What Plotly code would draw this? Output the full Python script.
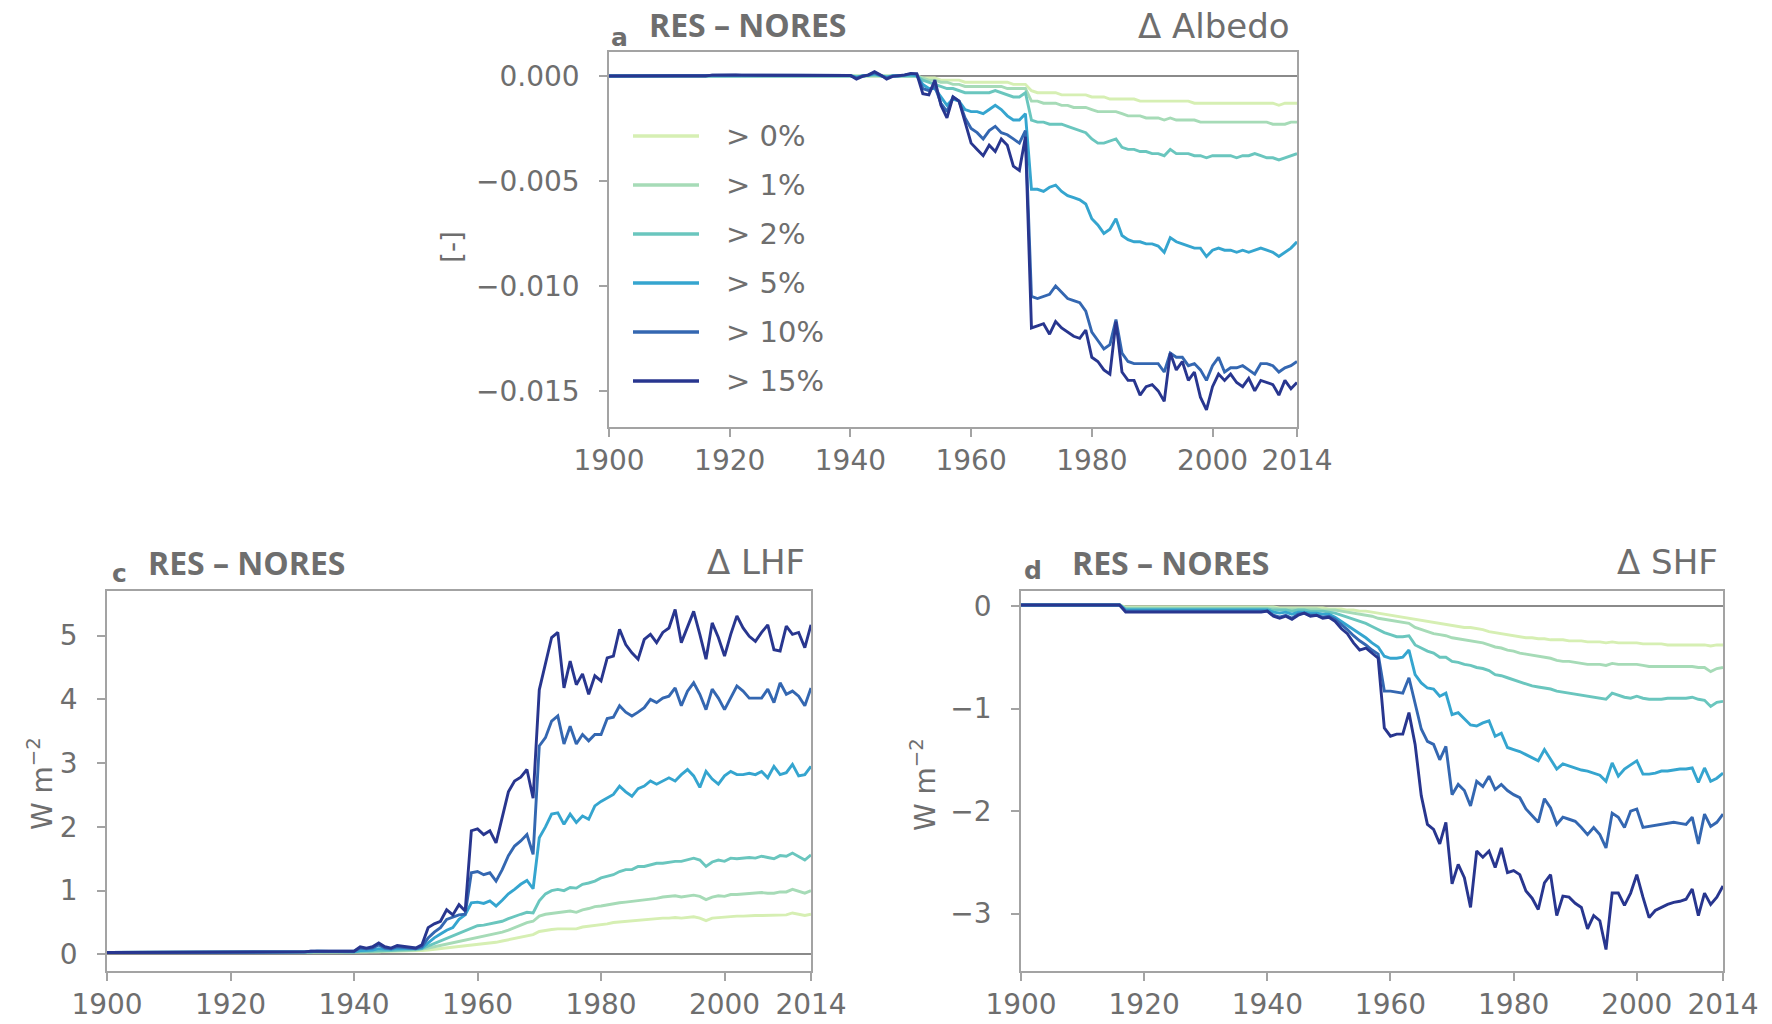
import plotly.graph_objects as go

# ---------------- data ----------------
years = list(range(1900, 2015))
thresholds = ["> 0%", "> 1%", "> 2%", "> 5%", "> 10%", "> 15%"]
colors = ["#d6efb3", "#a6dbb7", "#6ac6be", "#35a5cf", "#3467b1", "#28368f"]

x_tickvals = [1900, 1920, 1940, 1960, 1980, 2000, 2014]
x_ticktext = ["1900", "1920", "1940", "1960", "1980", "2000", "2014"]

alb_tickvals = [0.0, -0.005, -0.010, -0.015]
alb_ticktext = ["0.000", "\u22120.005", "\u22120.010", "\u22120.015"]
lhf_tickvals = [0, 1, 2, 3, 4, 5]
lhf_ticktext = ["0", "1", "2", "3", "4", "5"]
shf_tickvals = [0, -1, -2, -3]
shf_ticktext = ["0", "\u22121", "\u22122", "\u22123"]

# ---- panel a: delta albedo [-] ----
alb_gt0 = [
    0, 0, 0, 0, 0, 0, 0, 0, 0, 0,
    0, 0, 0, 0, 0, 0, 0, 0, 0, 0,
    0, 0, 0, 0, 0, 0, 0, 0, 0, 0,
    0, 0, 0, 0, 0, 0, 0, 0, 0, 0,
    0, 0, 0, 0, 0.00002, 0, 0, 0, 0, 0,
    0, 0, -0.0001, -0.0001, -0.0001, -0.0002, -0.0002, -0.0002, -0.0002, -0.0003,
    -0.0003, -0.0003, -0.0003, -0.0003, -0.0003, -0.0003, -0.0003, -0.0004, -0.0004, -0.0004,
    -0.0007, -0.0008, -0.0008, -0.0008, -0.0008, -0.0009, -0.0009, -0.0009, -0.0009, -0.0009,
    -0.0010, -0.0010, -0.0010, -0.0011, -0.0011, -0.0011, -0.0011, -0.0011, -0.0012, -0.0012,
    -0.0012, -0.0012, -0.0012, -0.0012, -0.0012, -0.0012, -0.0012, -0.0013, -0.0013, -0.0013,
    -0.0013, -0.0013, -0.0013, -0.0013, -0.0013, -0.0013, -0.0013, -0.0013, -0.0013, -0.0013,
    -0.0013, -0.0014, -0.0013, -0.0013, -0.0013,
]
alb_gt1 = [
    0, 0, 0, 0, 0, 0, 0, 0, 0, 0,
    0, 0, 0, 0, 0, 0, 0, 0, 0, 0,
    0, 0, 0, 0, 0, 0, 0, 0, 0, 0,
    0, 0, 0, 0, 0, 0, 0, 0, 0, 0,
    0, 0, 0, 0, 0.00003, 0, 0, 0, 0, 0,
    0.00002, 0, -0.0001, -0.0002, -0.0002, -0.0003, -0.0003, -0.0004, -0.0004, -0.0005,
    -0.0005, -0.0005, -0.0005, -0.0005, -0.0005, -0.0005, -0.0006, -0.0006, -0.0006, -0.0006,
    -0.0012, -0.0012, -0.0013, -0.0013, -0.0013, -0.0014, -0.0014, -0.0015, -0.0015, -0.0015,
    -0.0016, -0.0017, -0.0017, -0.0017, -0.0017, -0.0018, -0.0019, -0.0019, -0.0019, -0.0020,
    -0.0020, -0.0020, -0.0021, -0.0020, -0.0021, -0.0021, -0.0021, -0.0021, -0.0022, -0.0022,
    -0.0022, -0.0022, -0.0022, -0.0022, -0.0022, -0.0022, -0.0022, -0.0022, -0.0022, -0.0022,
    -0.0023, -0.0023, -0.0023, -0.0022, -0.0022,
]
alb_gt2 = [
    0, 0, 0, 0, 0, 0, 0, 0, 0, 0,
    0, 0, 0, 0, 0, 0, 0, 0.00001, 0.00001, 0.00001,
    0.00001, 0.00001, 0.00001, 0.00001, 0.00001, 0.00001, 0.00001, 0.00001, 0.00001, 0.00001,
    0.00001, 0.00001, 0.00001, 0.00001, 0.00001, 0.00001, 0.00001, 0.00001, 0.00001, 0.00001,
    0.00001, -0.00003, 0, 0.00002, 0.00005, 0.00001, -0.00003, 0, 0, 0.00002,
    0.00003, 0, -0.0002, -0.0003, -0.0004, -0.0005, -0.0006, -0.0006, -0.0007, -0.0008,
    -0.0008, -0.0008, -0.0008, -0.0008, -0.0007, -0.0008, -0.0009, -0.0010, -0.0010, -0.0008,
    -0.0021, -0.0022, -0.0022, -0.0023, -0.0023, -0.0023, -0.0024, -0.0025, -0.0026, -0.0027,
    -0.0030, -0.0032, -0.0032, -0.0031, -0.0030, -0.0034, -0.0035, -0.0035, -0.0036, -0.0036,
    -0.0037, -0.0037, -0.0038, -0.0035, -0.0037, -0.0037, -0.0037, -0.0038, -0.0038, -0.0039,
    -0.0038, -0.0038, -0.0038, -0.0038, -0.0039, -0.0038, -0.0038, -0.0037, -0.0038, -0.0039,
    -0.0039, -0.0040, -0.0039, -0.0038, -0.0037,
]
alb_gt5 = [
    0, 0, 0, 0, 0, 0, 0, 0, 0, 0,
    0, 0, 0, 0, 0, 0, 0, 0.00002, 0.00002, 0.00002,
    0.00002, 0.00003, 0.00002, 0.00002, 0.00003, 0.00002, 0.00002, 0.00002, 0.00003, 0.00002,
    0.00002, 0.00002, 0.00002, 0.00002, 0.00002, 0.00002, 0.00002, 0.00002, 0.00002, 0.00002,
    0.00001, -0.00007, 0, 0.00003, 0.0001, 0.00002, -0.00007, 0, 0, 0.00003,
    0.00006, 0, -0.0004, -0.0006, -0.0006, -0.0010, -0.0014, -0.0011, -0.0012, -0.0016,
    -0.0017, -0.0017, -0.0018, -0.0016, -0.0014, -0.0016, -0.0019, -0.0021, -0.0021, -0.0018,
    -0.0054, -0.0054, -0.0055, -0.0053, -0.0052, -0.0055, -0.0057, -0.0058, -0.0059, -0.0061,
    -0.0068, -0.0071, -0.0075, -0.0073, -0.0068, -0.0076, -0.0078, -0.0079, -0.0079, -0.0080,
    -0.0080, -0.0081, -0.0084, -0.0077, -0.0079, -0.0080, -0.0081, -0.0082, -0.0082, -0.0086,
    -0.0083, -0.0082, -0.0083, -0.0083, -0.0084, -0.0083, -0.0084, -0.0083, -0.0082, -0.0083,
    -0.0084, -0.0086, -0.0084, -0.0082, -0.0079,
]
alb_gt10 = [
    0, 0, 0, 0, 0, 0, 0, 0, 0, 0,
    0, 0, 0, 0, 0, 0, 0, 0.00003, 0.00004, 0.00003,
    0.00003, 0.00004, 0.00003, 0.00003, 0.00004, 0.00003, 0.00003, 0.00003, 0.00004, 0.00003,
    0.00003, 0.00003, 0.00003, 0.00003, 0.00003, 0.00003, 0.00003, 0.00003, 0.00003, 0.00003,
    0.00002, -0.0001, 0, 0.00004, 0.00015, 0.00003, -0.0001, 0, 0, 0.00004,
    0.0001, 0.0001, -0.0006, -0.0007, -0.0005, -0.0013, -0.0017, -0.0010, -0.0012, -0.0020,
    -0.0025, -0.0027, -0.0030, -0.0026, -0.0024, -0.0027, -0.0028, -0.0030, -0.0032, -0.0026,
    -0.0105, -0.0106, -0.0105, -0.0104, -0.0100, -0.0103, -0.0106, -0.0107, -0.0108, -0.0112,
    -0.0122, -0.0126, -0.0130, -0.0128, -0.0116, -0.0132, -0.0136, -0.0137, -0.0137, -0.0137,
    -0.0137, -0.0137, -0.0141, -0.0132, -0.0134, -0.0134, -0.0138, -0.0137, -0.0140, -0.0145,
    -0.0138, -0.0134, -0.0141, -0.0139, -0.0139, -0.0138, -0.0140, -0.0142, -0.0137, -0.0137,
    -0.0138, -0.0141, -0.0139, -0.0138, -0.0136,
]
alb_gt15 = [
    0, 0, 0, 0, 0, 0, 0, 0, 0, 0,
    0, 0, 0, 0, 0, 0, 0, 0.00004, 0.00005, 0.00004,
    0.00004, 0.00005, 0.00004, 0.00004, 0.00005, 0.00004, 0.00004, 0.00004, 0.00005, 0.00004,
    0.00004, 0.00004, 0.00004, 0.00004, 0.00004, 0.00004, 0.00004, 0.00004, 0.00004, 0.00004,
    0.00002, -0.00015, -0.00002, 0.00005, 0.0002, 0.00005, -0.00015, -0.00002, 0, 0.00005,
    0.00012, 0.0001, -0.00085, -0.0009, -0.0002, -0.0014, -0.0020, -0.0010, -0.0012, -0.0022,
    -0.0032, -0.0035, -0.0038, -0.0033, -0.0036, -0.0030, -0.0033, -0.0043, -0.0045, -0.0029,
    -0.0120, -0.0119, -0.0118, -0.0123, -0.0117, -0.0120, -0.0122, -0.0124, -0.0125, -0.0121,
    -0.0134, -0.0136, -0.0140, -0.0142, -0.0117, -0.0141, -0.0145, -0.0145, -0.0152, -0.0148,
    -0.0147, -0.0150, -0.0155, -0.0132, -0.0140, -0.0136, -0.0145, -0.0141, -0.0153, -0.0159,
    -0.0148, -0.0142, -0.0145, -0.0142, -0.0146, -0.0148, -0.0144, -0.0150, -0.0145, -0.0146,
    -0.0147, -0.0152, -0.0145, -0.0149, -0.0146,
]

# ---- panel c: delta LHF [W m-2] ----
lhf_gt0 = [
    0.03, 0.03, 0.03, 0.03, 0.03, 0.03, 0.03, 0.03, 0.03, 0.03,
    0.03, 0.03, 0.03, 0.03, 0.03, 0.03, 0.03, 0.03, 0.03, 0.03,
    0.03, 0.03, 0.03, 0.03, 0.03, 0.03, 0.03, 0.03, 0.03, 0.03,
    0.03, 0.03, 0.03, 0.03, 0.04, 0.04, 0.04, 0.04, 0.04, 0.04,
    0.04, 0.04, 0.04, 0.04, 0.04, 0.05, 0.05, 0.05, 0.05, 0.05,
    0.06, 0.06, 0.07, 0.08, 0.09, 0.10, 0.11, 0.12, 0.13, 0.14,
    0.15, 0.16, 0.18, 0.19, 0.21, 0.23, 0.25, 0.27, 0.29, 0.31,
    0.36, 0.38, 0.39, 0.40, 0.40, 0.41, 0.40, 0.43, 0.44, 0.45,
    0.47, 0.48, 0.50, 0.51, 0.52, 0.53, 0.54, 0.55, 0.55, 0.56,
    0.57, 0.57, 0.58, 0.57, 0.58, 0.59, 0.57, 0.53, 0.57, 0.58,
    0.58, 0.60, 0.60, 0.60, 0.61, 0.61, 0.61, 0.61, 0.61, 0.62,
    0.62, 0.65, 0.63, 0.61, 0.63,
]
lhf_gt1 = [
    0.03, 0.03, 0.03, 0.03, 0.03, 0.03, 0.03, 0.03, 0.03, 0.03,
    0.03, 0.03, 0.03, 0.03, 0.03, 0.03, 0.03, 0.03, 0.03, 0.03,
    0.03, 0.03, 0.03, 0.03, 0.03, 0.03, 0.03, 0.03, 0.03, 0.03,
    0.03, 0.03, 0.04, 0.04, 0.04, 0.04, 0.04, 0.04, 0.04, 0.04,
    0.04, 0.04, 0.04, 0.05, 0.05, 0.05, 0.05, 0.06, 0.06, 0.06,
    0.07, 0.08, 0.10, 0.12, 0.14, 0.16, 0.18, 0.20, 0.22, 0.24,
    0.26, 0.28, 0.30, 0.32, 0.35, 0.38, 0.42, 0.46, 0.50, 0.52,
    0.60, 0.63, 0.64, 0.66, 0.66, 0.68, 0.66, 0.70, 0.72, 0.75,
    0.76, 0.78, 0.80, 0.81, 0.82, 0.83, 0.85, 0.86, 0.87, 0.88,
    0.90, 0.91, 0.92, 0.90, 0.92, 0.93, 0.91, 0.86, 0.90, 0.92,
    0.91, 0.94, 0.94, 0.95, 0.96, 0.96, 0.97, 0.96, 0.96, 0.98,
    0.98, 1.02, 0.99, 0.96, 1.00,
]
lhf_gt2 = [
    0.03, 0.03, 0.03, 0.03, 0.03, 0.03, 0.03, 0.03, 0.03, 0.03,
    0.03, 0.03, 0.03, 0.03, 0.03, 0.03, 0.03, 0.03, 0.04, 0.04,
    0.04, 0.04, 0.04, 0.04, 0.04, 0.04, 0.04, 0.04, 0.04, 0.04,
    0.04, 0.04, 0.04, 0.04, 0.04, 0.04, 0.04, 0.04, 0.04, 0.04,
    0.04, 0.05, 0.05, 0.05, 0.06, 0.06, 0.06, 0.07, 0.07, 0.07,
    0.08, 0.09, 0.13, 0.17, 0.21, 0.26, 0.30, 0.34, 0.38, 0.42,
    0.45, 0.46, 0.48, 0.50, 0.52, 0.56, 0.60, 0.63, 0.66, 0.65,
    0.84, 0.95, 1.00, 1.02, 1.00, 1.05, 1.04, 1.10, 1.12, 1.15,
    1.20, 1.22, 1.25, 1.30, 1.33, 1.33, 1.38, 1.38, 1.40, 1.43,
    1.43, 1.45, 1.46, 1.46, 1.48, 1.51, 1.48, 1.38, 1.45, 1.48,
    1.46, 1.51, 1.50, 1.51, 1.52, 1.51, 1.54, 1.52, 1.50, 1.55,
    1.54, 1.59, 1.53, 1.48, 1.56,
]
lhf_gt5 = [
    0.03, 0.03, 0.03, 0.03, 0.03, 0.03, 0.03, 0.03, 0.03, 0.03,
    0.03, 0.03, 0.03, 0.03, 0.03, 0.03, 0.03, 0.03, 0.04, 0.04,
    0.04, 0.04, 0.04, 0.04, 0.04, 0.04, 0.04, 0.04, 0.04, 0.04,
    0.04, 0.04, 0.04, 0.04, 0.05, 0.05, 0.05, 0.05, 0.05, 0.05,
    0.04, 0.06, 0.06, 0.07, 0.09, 0.08, 0.08, 0.09, 0.09, 0.09,
    0.09, 0.10, 0.18, 0.26, 0.32, 0.38, 0.42, 0.55, 0.62, 0.81,
    0.82, 0.80, 0.84, 0.76, 0.85, 0.95, 1.02, 1.10, 1.16, 1.03,
    1.83, 2.00, 2.20, 2.22, 2.04, 2.20, 2.07, 2.17, 2.12, 2.33,
    2.40, 2.46, 2.51, 2.64, 2.55, 2.48, 2.60, 2.64, 2.72, 2.67,
    2.72, 2.77, 2.72, 2.82, 2.90, 2.80, 2.62, 2.87, 2.75, 2.67,
    2.80, 2.87, 2.82, 2.82, 2.84, 2.82, 2.87, 2.77, 2.95, 2.82,
    2.85, 2.98, 2.80, 2.82, 2.95,
]
lhf_gt10 = [
    0.03, 0.03, 0.03, 0.03, 0.03, 0.03, 0.03, 0.03, 0.03, 0.03,
    0.03, 0.03, 0.03, 0.03, 0.03, 0.03, 0.03, 0.03, 0.04, 0.04,
    0.04, 0.04, 0.04, 0.04, 0.04, 0.04, 0.04, 0.04, 0.04, 0.04,
    0.04, 0.04, 0.04, 0.05, 0.05, 0.05, 0.05, 0.05, 0.05, 0.05,
    0.05, 0.10, 0.09, 0.10, 0.15, 0.10, 0.09, 0.12, 0.11, 0.10,
    0.09, 0.12, 0.26, 0.35, 0.42, 0.55, 0.58, 0.62, 0.63, 1.28,
    1.30, 1.25, 1.28, 1.15, 1.33, 1.55, 1.70, 1.78, 1.88, 1.57,
    3.27, 3.40, 3.66, 3.74, 3.30, 3.58, 3.30, 3.45, 3.35, 3.45,
    3.45, 3.70, 3.72, 3.90, 3.80, 3.74, 3.80, 3.87, 4.00, 3.95,
    4.02, 4.05, 4.18, 3.90, 4.13, 4.26, 4.08, 3.84, 4.16, 4.02,
    3.84, 4.02, 4.21, 4.13, 4.02, 4.02, 4.02, 4.16, 3.95, 4.26,
    4.08, 4.13, 4.05, 3.90, 4.18,
]
lhf_gt15 = [
    0.03, 0.03, 0.03, 0.03, 0.03, 0.03, 0.03, 0.03, 0.03, 0.03,
    0.03, 0.03, 0.03, 0.03, 0.03, 0.03, 0.03, 0.03, 0.04, 0.04,
    0.04, 0.04, 0.04, 0.04, 0.04, 0.04, 0.04, 0.04, 0.04, 0.04,
    0.04, 0.04, 0.04, 0.05, 0.05, 0.05, 0.05, 0.05, 0.05, 0.05,
    0.05, 0.12, 0.10, 0.12, 0.18, 0.12, 0.10, 0.14, 0.13, 0.12,
    0.10, 0.15, 0.42, 0.48, 0.52, 0.70, 0.62, 0.78, 0.68, 1.94,
    1.97, 1.88, 1.94, 1.75, 2.15, 2.55, 2.72, 2.78, 2.90, 2.45,
    4.15, 4.55, 4.97, 5.05, 4.18, 4.60, 4.23, 4.40, 4.08, 4.37,
    4.29, 4.65, 4.68, 5.10, 4.86, 4.73, 4.63, 4.94, 5.02, 4.89,
    5.05, 5.12, 5.41, 4.89, 5.15, 5.38, 5.02, 4.63, 5.20, 4.97,
    4.68, 5.02, 5.31, 5.12, 4.99, 4.91, 5.05, 5.17, 4.78, 4.76,
    5.15, 5.02, 5.05, 4.81, 5.17,
]

# ---- panel d: delta SHF [W m-2] ----
shf_gt0 = [
    0.01, 0.01, 0.01, 0.01, 0.01, 0.01, 0.01, 0.01, 0.01, 0.01,
    0.01, 0.01, 0.01, 0.01, 0.01, 0.01, 0.01, -0.01, -0.01, -0.01,
    -0.01, -0.01, -0.01, -0.01, -0.01, -0.01, -0.01, -0.01, -0.01, -0.01,
    -0.01, -0.01, -0.01, -0.01, -0.01, -0.01, -0.01, -0.01, -0.01, -0.01,
    -0.01, -0.01, -0.02, -0.02, -0.02, -0.02, -0.02, -0.02, -0.02, -0.02,
    -0.03, -0.03, -0.03, -0.04, -0.04, -0.05, -0.05, -0.06, -0.07, -0.08,
    -0.09, -0.10, -0.11, -0.12, -0.13, -0.14, -0.15, -0.16, -0.17, -0.18,
    -0.19, -0.20, -0.21, -0.21, -0.22, -0.23, -0.25, -0.26, -0.27, -0.28,
    -0.29, -0.30, -0.31, -0.31, -0.32, -0.32, -0.33, -0.33, -0.33, -0.34,
    -0.34, -0.34, -0.35, -0.35, -0.35, -0.36, -0.35, -0.36, -0.36, -0.36,
    -0.36, -0.37, -0.37, -0.37, -0.37, -0.38, -0.38, -0.38, -0.38, -0.38,
    -0.38, -0.38, -0.39, -0.38, -0.38,
]
shf_gt1 = [
    0.01, 0.01, 0.01, 0.01, 0.01, 0.01, 0.01, 0.01, 0.01, 0.01,
    0.01, 0.01, 0.01, 0.01, 0.01, 0.01, 0.01, -0.02, -0.02, -0.02,
    -0.02, -0.02, -0.02, -0.02, -0.02, -0.02, -0.02, -0.02, -0.02, -0.02,
    -0.02, -0.02, -0.02, -0.02, -0.02, -0.02, -0.02, -0.02, -0.02, -0.02,
    -0.02, -0.02, -0.03, -0.03, -0.03, -0.03, -0.03, -0.03, -0.03, -0.04,
    -0.04, -0.04, -0.05, -0.06, -0.07, -0.08, -0.09, -0.10, -0.12, -0.13,
    -0.14, -0.15, -0.16, -0.17, -0.21, -0.23, -0.25, -0.27, -0.28, -0.29,
    -0.31, -0.32, -0.33, -0.34, -0.35, -0.36, -0.38, -0.40, -0.41, -0.43,
    -0.44, -0.46, -0.47, -0.48, -0.49, -0.50, -0.51, -0.53, -0.54, -0.54,
    -0.55, -0.56, -0.57, -0.57, -0.57, -0.58, -0.56, -0.57, -0.57, -0.57,
    -0.57, -0.58, -0.59, -0.59, -0.59, -0.59, -0.59, -0.59, -0.59, -0.59,
    -0.60, -0.60, -0.64, -0.61, -0.60,
]
shf_gt2 = [
    0.01, 0.01, 0.01, 0.01, 0.01, 0.01, 0.01, 0.01, 0.01, 0.01,
    0.01, 0.01, 0.01, 0.01, 0.01, 0.01, 0.01, -0.03, -0.03, -0.03,
    -0.03, -0.03, -0.03, -0.03, -0.03, -0.03, -0.03, -0.03, -0.03, -0.03,
    -0.03, -0.03, -0.03, -0.03, -0.03, -0.03, -0.03, -0.03, -0.03, -0.03,
    -0.03, -0.04, -0.04, -0.04, -0.05, -0.04, -0.04, -0.05, -0.05, -0.05,
    -0.06, -0.07, -0.09, -0.11, -0.13, -0.15, -0.17, -0.20, -0.23, -0.26,
    -0.28, -0.30, -0.30, -0.29, -0.38, -0.41, -0.44, -0.46, -0.50, -0.50,
    -0.54, -0.55, -0.57, -0.58, -0.60, -0.61, -0.63, -0.67, -0.68, -0.70,
    -0.72, -0.74, -0.76, -0.78, -0.79, -0.80, -0.81, -0.83, -0.84, -0.85,
    -0.86, -0.87, -0.88, -0.89, -0.90, -0.91, -0.85, -0.87, -0.89, -0.90,
    -0.88, -0.90, -0.91, -0.91, -0.91, -0.90, -0.90, -0.90, -0.90, -0.89,
    -0.91, -0.92, -0.98, -0.94, -0.93,
]
shf_gt5 = [
    0.01, 0.01, 0.01, 0.01, 0.01, 0.01, 0.01, 0.01, 0.01, 0.01,
    0.01, 0.01, 0.01, 0.01, 0.01, 0.01, 0.01, -0.04, -0.04, -0.04,
    -0.04, -0.04, -0.04, -0.04, -0.04, -0.04, -0.04, -0.04, -0.04, -0.04,
    -0.04, -0.04, -0.04, -0.04, -0.04, -0.04, -0.04, -0.04, -0.04, -0.04,
    -0.04, -0.06, -0.07, -0.06, -0.08, -0.06, -0.06, -0.07, -0.07, -0.08,
    -0.08, -0.11, -0.15, -0.19, -0.23, -0.27, -0.31, -0.36, -0.40, -0.49,
    -0.51, -0.51, -0.50, -0.43, -0.67, -0.75, -0.80, -0.81, -0.88, -0.85,
    -1.06, -1.04, -1.10, -1.16, -1.17, -1.14, -1.12, -1.27, -1.24, -1.38,
    -1.40, -1.42, -1.45, -1.48, -1.51, -1.40, -1.50, -1.59, -1.54, -1.56,
    -1.58, -1.60, -1.61, -1.63, -1.65, -1.71, -1.53, -1.66, -1.59, -1.55,
    -1.51, -1.64, -1.64, -1.63, -1.61, -1.61, -1.60, -1.59, -1.59, -1.58,
    -1.72, -1.58, -1.71, -1.68, -1.63,
]
shf_gt10 = [
    0.01, 0.01, 0.01, 0.01, 0.01, 0.01, 0.01, 0.01, 0.01, 0.01,
    0.01, 0.01, 0.01, 0.01, 0.01, 0.01, 0.01, -0.05, -0.05, -0.05,
    -0.05, -0.05, -0.05, -0.05, -0.05, -0.05, -0.05, -0.05, -0.05, -0.05,
    -0.05, -0.05, -0.05, -0.05, -0.05, -0.05, -0.05, -0.05, -0.05, -0.05,
    -0.05, -0.09, -0.11, -0.09, -0.12, -0.08, -0.07, -0.09, -0.09, -0.11,
    -0.10, -0.13, -0.18, -0.23, -0.29, -0.34, -0.38, -0.43, -0.47, -0.83,
    -0.83, -0.84, -0.85, -0.70, -0.96, -1.20, -1.32, -1.35, -1.50, -1.37,
    -1.84, -1.74, -1.80, -1.95, -1.71, -1.76, -1.66, -1.79, -1.74, -1.80,
    -1.84, -1.87, -1.98, -2.05, -2.11, -1.88, -1.97, -2.13, -2.06, -2.08,
    -2.10, -2.16, -2.23, -2.16, -2.23, -2.36, -2.02, -2.06, -2.16, -2.00,
    -1.98, -2.16, -2.15, -2.14, -2.13, -2.12, -2.11, -2.12, -2.13, -2.06,
    -2.32, -2.03, -2.15, -2.11, -2.03,
]
shf_gt15 = [
    0.01, 0.01, 0.01, 0.01, 0.01, 0.01, 0.01, 0.01, 0.01, 0.01,
    0.01, 0.01, 0.01, 0.01, 0.01, 0.01, 0.01, -0.06, -0.06, -0.06,
    -0.06, -0.06, -0.06, -0.06, -0.06, -0.06, -0.06, -0.06, -0.06, -0.06,
    -0.06, -0.06, -0.06, -0.06, -0.06, -0.06, -0.06, -0.06, -0.06, -0.06,
    -0.05, -0.10, -0.12, -0.10, -0.13, -0.09, -0.07, -0.10, -0.09, -0.12,
    -0.11, -0.15, -0.22, -0.27, -0.36, -0.43, -0.41, -0.46, -0.51, -1.19,
    -1.27, -1.25, -1.25, -1.04, -1.35, -1.85, -2.13, -2.18, -2.32, -2.11,
    -2.71, -2.52, -2.65, -2.94, -2.39, -2.45, -2.39, -2.55, -2.36, -2.60,
    -2.58, -2.62, -2.78, -2.85, -2.96, -2.70, -2.62, -3.02, -2.83, -2.84,
    -2.90, -2.94, -3.15, -3.02, -3.07, -3.35, -2.80, -2.80, -2.92, -2.80,
    -2.62, -2.84, -3.04, -2.97, -2.94, -2.91, -2.89, -2.88, -2.86, -2.76,
    -3.02, -2.80, -2.91, -2.84, -2.73,
]

albedo_series = [alb_gt0, alb_gt1, alb_gt2, alb_gt5, alb_gt10, alb_gt15]
lhf_series = [lhf_gt0, lhf_gt1, lhf_gt2, lhf_gt5, lhf_gt10, lhf_gt15]
shf_series = [shf_gt0, shf_gt1, shf_gt2, shf_gt5, shf_gt10, shf_gt15]

for group in (albedo_series, lhf_series, shf_series):
    for s in group:
        assert len(s) == len(years), len(s)

# ---------------- figure ----------------
W, H = 1772, 1024
GRAY_TXT = "#6e6e6e"
FRAME = "#a3a3a3"


def px(x):
    return x / W


def py(y):
    return 1 - y / H


fig = go.Figure()

panels = [
    ("x", "y", albedo_series),
    ("x2", "y2", lhf_series),
    ("x3", "y3", shf_series),
]
for xa, ya, series in panels:
    for name, col, vals in zip(thresholds, colors, series):
        fig.add_trace(go.Scatter(
            x=years, y=vals, mode="lines", name=name,
            line=dict(color=col, width=2.9),
            xaxis=xa, yaxis=ya, showlegend=False,
        ))

tick_font = dict(family="DejaVu Sans", size=28, color=GRAY_TXT)


def xax(domain, anchor):
    return dict(
        domain=domain, anchor=anchor, range=[1900, 2014],
        tickmode="array", tickvals=x_tickvals, ticktext=x_ticktext,
        showgrid=False, zeroline=False, showline=True, mirror=True,
        linecolor=FRAME, linewidth=1.5, ticks="outside", ticklen=8,
        tickwidth=1.5, tickcolor=FRAME, tickfont=tick_font,
        ticklabelstandoff=0, automargin=False,
    )


def yax(domain, anchor, rng, tv, tt):
    return dict(
        domain=domain, anchor=anchor, range=rng,
        tickmode="array", tickvals=tv, ticktext=tt,
        showgrid=False, zeroline=True, zerolinecolor="#8a8a8a",
        zerolinewidth=1.5, showline=True, mirror=True,
        linecolor=FRAME, linewidth=1.5, ticks="outside", ticklen=8,
        tickwidth=1.5, tickcolor=FRAME, tickfont=tick_font,
        ticklabelstandoff=14, automargin=False,
    )


fig.update_layout(
    width=W, height=H, autosize=False,
    margin=dict(l=0, r=0, t=0, b=0, pad=0),
    paper_bgcolor="white", plot_bgcolor="white",
    xaxis=xax([px(609), px(1297)], "y"),
    yaxis=yax([py(427), py(52)], "x", [-0.01672, 0.00114], alb_tickvals, alb_ticktext),
    xaxis2=xax([px(107), px(811)], "y2"),
    yaxis2=yax([py(971), py(591)], "x2", [-0.26, 5.70], lhf_tickvals, lhf_ticktext),
    xaxis3=xax([px(1021), px(1723)], "y3"),
    yaxis3=yax([py(971), py(591)], "x3", [-3.56, 0.146], shf_tickvals, shf_ticktext),
)

ann = []
shapes = []


def text(x, y, s, size, xanchor="left", family="DejaVu Sans", angle=0, color=GRAY_TXT):
    ann.append(dict(
        x=px(x), y=py(y), xref="paper", yref="paper", text=s, showarrow=False,
        xanchor=xanchor, yanchor="middle", textangle=angle,
        font=dict(family=family, size=size, color=color),
    ))


# panel headers
headers = [
    ("a", 619, 37, 647, 24, 1292, 26, "\u0394 Albedo"),
    ("c", 119, 573, 146, 562, 807, 562, "\u0394 LHF"),
    ("d", 1033, 570, 1070, 562, 1720, 562, "\u0394 SHF"),
]
for letter, lx, ly, rx, ry, qx, qy, qty in headers:
    text(lx, ly, "<b>" + letter + "</b>", 25, xanchor="center")
    text(rx, ry, "<b>RES \u2013 NORES</b>", 32, family="Open Sans")
    text(qx, qy, qty, 34, xanchor="right")

# y-axis titles
text(452, 247, "[-]", 28, xanchor="center", angle=-90)
text(40, 784, "W m<sup>\u22122</sup>", 28, xanchor="center", angle=-90)
text(923, 784, "W m<sup>\u22122</sup>", 28, xanchor="center", angle=-90)

# legend (panel a)
leg_y = [136, 185, 234, 283, 332, 381]
for name, col, ly in zip(thresholds, colors, leg_y):
    shapes.append(dict(
        type="line", xref="paper", yref="paper",
        x0=px(633), x1=px(699), y0=py(ly), y1=py(ly),
        line=dict(color=col, width=3.5),
    ))
    text(724, ly, name, 29)

fig.update_layout(annotations=ann, shapes=shapes)

fig.write_html("out.html")
